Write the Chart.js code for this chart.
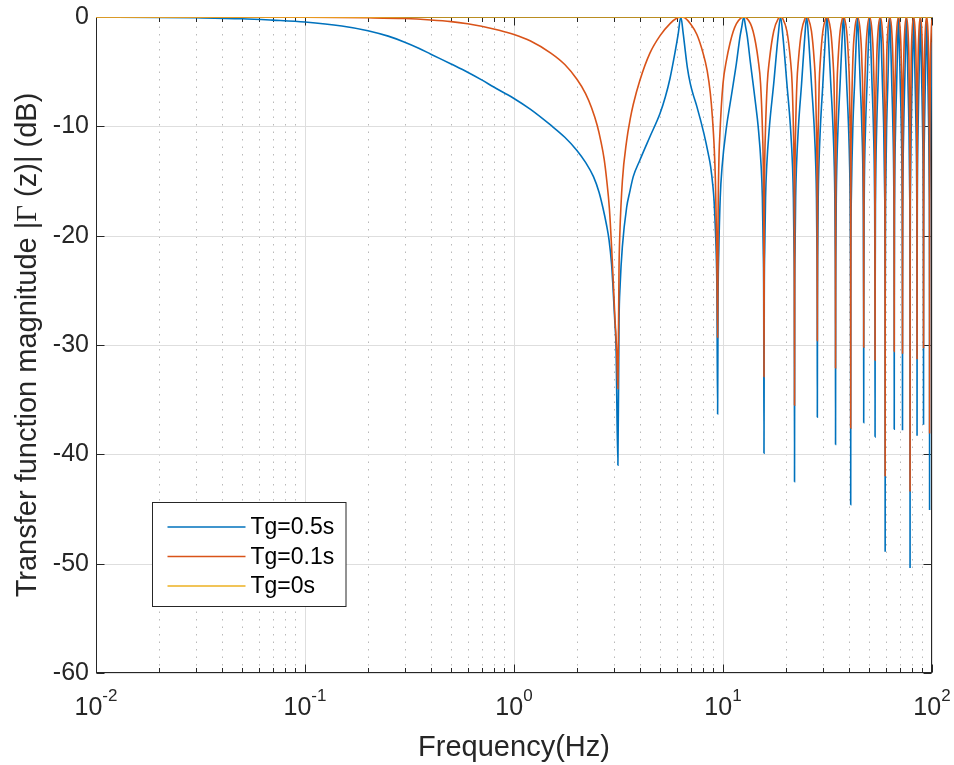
<!DOCTYPE html>
<html>
<head>
<meta charset="utf-8">
<script src="https://cdn.jsdelivr.net/npm/chart.js@4.4.1/dist/chart.umd.min.js"></script>
<style>
  html, body { margin: 0; padding: 0; background: #ffffff; }
  canvas { display: block; }
</style>
</head>
<body>
<canvas id="chart" width="954" height="765"></canvas>
<script>
// ---- data: transfer function magnitude (dB) against frequency (Hz) ----

const seriesNames = ['Tg=0.5s', 'Tg=0.1s', 'Tg=0s'];

const blueHz = [
  0.01, 0.02, 0.03, 0.05, 0.07, 0.1, 0.15, 0.2, 0.25, 0.3, 0.35, 0.4, 0.5, 0.6, 0.7, 0.8, 0.9,
  1.0, 1.2, 1.5, 1.75, 2.0, 2.2, 2.4, 2.55, 2.66, 2.77, 2.85, 2.93, 2.97, 3.03, 3.08, 3.1416,
  3.18, 3.22, 3.3, 3.46, 3.58, 3.72, 4.0, 4.47, 5.0, 5.3, 5.58, 5.9, 6.1, 6.2832,
  6.45, 6.59, 6.75, 6.97, 7.2, 7.5, 8.1, 8.5, 8.73, 8.95, 9.06, 9.2, 9.27, 9.35, 9.4248,
  9.47, 9.55, 9.7, 9.9, 10.4, 10.8, 11.2, 11.6, 12.06, 12.3, 12.5664,
  12.83, 13.07, 13.53, 13.93, 14.33, 14.73, 15.23, 15.43, 15.58, 15.66, 15.708,
  15.753, 15.833, 15.983, 16.183, 16.683, 17.483, 18.343, 18.850,
  19.356, 20.216, 21.016, 21.516, 21.716, 21.866, 21.946, 21.991,
  22.036, 22.116, 22.266, 22.466, 22.966, 23.766, 24.626, 25.133,
  25.639, 26.499, 27.299, 27.799, 27.999, 28.149, 28.229, 28.274,
  28.319, 28.399, 28.549, 28.749, 29.249, 30.049, 30.909, 31.416,
  31.923, 32.783, 33.583, 34.083, 34.283, 34.433, 34.513, 34.558,
  34.603, 34.683, 34.833, 35.033, 35.533, 36.333, 37.193, 37.699,
  38.206, 39.066, 39.866, 40.366, 40.566, 40.716, 40.796, 40.841,
  40.886, 41.116, 41.816, 42.616, 43.476, 43.982,
  44.489, 45.349, 46.149, 46.849, 47.079, 47.124,
  47.169, 47.399, 48.099, 48.899, 49.759, 50.265,
  50.772, 51.632, 52.432, 53.132, 53.362, 53.407,
  53.452, 53.682, 54.382, 55.182, 56.042, 56.549,
  57.055, 57.915, 58.715, 59.415, 59.645, 59.690,
  59.735, 59.965, 60.665, 61.465, 62.325, 62.832,
  63.338, 64.198, 64.998, 65.698, 65.928, 65.973,
  66.018, 66.248, 66.948, 67.748, 68.608, 69.115,
  69.622, 70.482, 71.282, 71.982, 72.212, 72.257,
  72.302, 72.532, 73.232, 74.032, 74.892, 75.398,
  75.905, 76.765, 77.565, 78.265, 78.495, 78.540,
  78.585, 78.815, 79.515, 80.315, 81.175, 81.681,
  82.188, 83.048, 83.848, 84.548, 84.778, 84.823,
  84.868, 85.098, 85.798, 86.598, 87.458, 87.965,
  88.471, 89.331, 90.131, 90.831, 91.061, 91.106,
  91.151, 91.381, 92.081, 92.881, 93.741, 94.248,
  94.754, 95.614, 96.414, 97.114, 97.344, 97.389,
  97.434, 97.664, 98.364, 99.164, 100
];
const blueDb = [
  0, -0.03, -0.07, -0.16, -0.29, -0.46, -0.82, -1.25, -1.75, -2.3, -2.85, -3.4, -4.3, -5.05, -5.75, -6.4, -6.95,
  -7.45, -8.45, -9.9, -11.0, -12.2, -13.3, -14.6, -16.0, -17.4, -19.0, -20.4, -22.6, -24.4, -27.5, -30.5, -41.0,
  -28.0, -24.5, -21.0, -17.4, -16.0, -14.6, -13.1, -10.95, -8.8, -7.3, -5.6, -3.2, -1.6, 0,
  -1.5, -3.0, -4.6, -6.07, -7.1, -8.2, -10.65, -12.5, -13.7, -15.5, -16.75, -19.5, -21.3, -25.0, -36.3,
  -26, -21.3, -16.5, -13.7, -10.0, -8.0, -6.1, -4.2, -1.8, -0.9, 0,
  -0.9, -1.8, -4.2, -6.1, -8.0, -10.0, -13.7, -16.5, -21.3, -26, -39.9,
  -26, -21.3, -16.5, -13.7, -10.0, -6.1, -1.8, 0,
  -1.8, -6.1, -10.0, -13.7, -16.5, -21.3, -26, -42.5,
  -26, -21.3, -16.5, -13.7, -10.0, -6.1, -1.8, 0,
  -1.8, -6.1, -10.0, -13.7, -16.5, -21.3, -26, -36.6,
  -26, -21.3, -16.5, -13.7, -10.0, -6.1, -1.8, 0,
  -1.8, -6.1, -10.0, -13.7, -16.5, -21.3, -26, -39.1,
  -26, -21.3, -16.5, -13.7, -10.0, -6.1, -1.8, 0,
  -1.8, -6.1, -10.0, -13.7, -16.5, -21.3, -26, -44.6,
  -26, -16.5, -10.0, -6.1, -1.8, 0,
  -1.8, -6.1, -10.0, -16.5, -26, -37.1,
  -26, -16.5, -10.0, -6.1, -1.8, 0,
  -1.8, -6.1, -10.0, -16.5, -26, -38.4,
  -26, -16.5, -10.0, -6.1, -1.8, 0,
  -1.8, -6.1, -10.0, -16.5, -26, -48.9,
  -26, -16.5, -10.0, -6.1, -1.8, 0,
  -1.8, -6.1, -10.0, -16.5, -26, -37.7,
  -26, -16.5, -10.0, -6.1, -1.8, 0,
  -1.8, -6.1, -10.0, -16.5, -26, -37.8,
  -26, -16.5, -10.0, -6.1, -1.8, 0,
  -1.8, -6.1, -10.0, -16.5, -26, -50.4,
  -26, -16.5, -10.0, -6.1, -1.8, 0,
  -1.8, -6.1, -10.0, -16.5, -26, -38.3,
  -26, -16.5, -10.0, -6.1, -1.8, 0,
  -1.8, -6.1, -10.0, -16.5, -26, -37.3,
  -26, -16.5, -10.0, -6.1, -1.8, 0,
  -1.8, -6.1, -10.0, -16.5, -26, -45.1,
  -26, -16.5, -10.0, -6.1, -2.3
];

const orangeHz = [
  0.01, 0.1, 0.2, 0.3, 0.4, 0.5, 0.6, 0.7, 0.8, 0.9,
  1.0, 1.2, 1.5, 1.75, 2.0, 2.2, 2.35, 2.5, 2.6, 2.7, 2.78, 2.86, 2.93, 2.99, 3.04, 3.1, 3.1416,
  3.18, 3.21, 3.3, 3.46, 3.6, 3.72, 4.0, 4.47, 5.0, 5.58, 6.0, 6.2832,
  6.6, 6.97, 7.5, 8.0, 8.4, 8.7, 8.9, 9.08, 9.2, 9.3, 9.36, 9.4248,
  9.47, 9.55, 9.67, 10.0, 10.4, 10.8, 11.2, 11.6, 12.1, 12.5664,
  13.03, 13.53, 13.93, 14.33, 14.73, 15.13, 15.46, 15.58, 15.66, 15.708,
  15.753, 15.833, 15.953, 16.283, 16.683, 17.483, 18.383, 18.850,
  19.316, 20.216, 21.016, 21.416, 21.746, 21.866, 21.946, 21.991,
  22.036, 22.116, 22.236, 22.566, 22.966, 23.766, 24.666, 25.133,
  25.599, 26.499, 27.299, 27.699, 28.029, 28.149, 28.229, 28.274,
  28.319, 28.399, 28.519, 28.849, 29.249, 30.049, 30.949, 31.416,
  31.883, 32.783, 33.583, 33.983, 34.313, 34.433, 34.513, 34.558,
  34.603, 34.683, 34.803, 35.133, 35.533, 36.333, 37.233, 37.699,
  38.166, 39.066, 39.866, 40.266, 40.596, 40.716, 40.796, 40.841,
  40.886, 41.086, 41.816, 42.616, 43.982, 45.349, 46.149, 46.879, 47.079, 47.124,
  47.169, 47.369, 48.099, 48.899, 50.265, 51.632, 52.432, 53.162, 53.362, 53.407,
  53.452, 53.652, 54.382, 55.182, 56.549, 57.915, 58.715, 59.445, 59.645, 59.690,
  59.735, 59.935, 60.665, 61.465, 62.832, 64.198, 64.998, 65.728, 65.928, 65.973,
  66.018, 66.218, 66.948, 67.748, 69.115, 70.482, 71.282, 72.012, 72.212, 72.257,
  72.302, 72.502, 73.232, 74.032, 75.398, 76.765, 77.565, 78.295, 78.495, 78.540,
  78.585, 78.785, 79.515, 80.315, 81.681, 83.048, 83.848, 84.578, 84.778, 84.823,
  84.868, 85.068, 85.798, 86.598, 87.965, 89.331, 90.131, 90.861, 91.061, 91.106,
  91.151, 91.351, 92.081, 92.881, 94.248, 95.614, 96.414, 97.144, 97.344, 97.389,
  97.434, 97.634, 98.364, 99.164, 100
];
const orangeDb = [
  0, -0.02, -0.07, -0.14, -0.27, -0.42, -0.62, -0.85, -1.1, -1.35,
  -1.6, -2.2, -3.3, -4.35, -5.7, -7.0, -8.3, -9.9, -11.3, -13.0, -15.0, -17.5, -21.0, -24.5, -27.5, -30.5, -34.0,
  -23.0, -19.8, -15.0, -11.3, -9.3, -8.0, -5.8, -3.3, -1.7, -0.6, -0.12, 0,
  -0.1, -0.6, -1.6, -3.2, -4.9, -7.0, -9.2, -12.0, -15.0, -19.5, -23.0, -29.3,
  -19, -13.5, -10.6, -6.1, -3.9, -2.4, -1.3, -0.6, -0.15, 0,
  -0.15, -0.6, -1.3, -2.4, -3.9, -6.1, -10.6, -13.5, -19, -32.9,
  -19, -13.5, -10.6, -6.1, -3.9, -1.3, -0.15, 0,
  -0.15, -1.3, -3.9, -6.1, -10.6, -13.5, -19, -35.5,
  -19, -13.5, -10.6, -6.1, -3.9, -1.3, -0.15, 0,
  -0.15, -1.3, -3.9, -6.1, -10.6, -13.5, -19, -29.6,
  -19, -13.5, -10.6, -6.1, -3.9, -1.3, -0.15, 0,
  -0.15, -1.3, -3.9, -6.1, -10.6, -13.5, -19, -32.1,
  -19, -13.5, -10.6, -6.1, -3.9, -1.3, -0.15, 0,
  -0.15, -1.3, -3.9, -6.1, -10.6, -13.5, -19, -37.6,
  -19, -10.6, -3.9, -1.3, 0, -1.3, -3.9, -10.6, -19, -30.2,
  -19, -10.6, -3.9, -1.3, 0, -1.3, -3.9, -10.6, -19, -31.4,
  -19, -10.6, -3.9, -1.3, 0, -1.3, -3.9, -10.6, -19, -42.0,
  -19, -10.6, -3.9, -1.3, 0, -1.3, -3.9, -10.6, -19, -30.6,
  -19, -10.6, -3.9, -1.3, 0, -1.3, -3.9, -10.6, -19, -30.8,
  -19, -10.6, -3.9, -1.3, 0, -1.3, -3.9, -10.6, -19, -43.4,
  -19, -10.6, -3.9, -1.3, 0, -1.3, -3.9, -10.6, -19, -31.3,
  -19, -10.6, -3.9, -1.3, 0, -1.3, -3.9, -10.6, -19, -30.3,
  -19, -10.6, -3.9, -1.3, 0, -1.3, -3.9, -10.6, -19, -38.1,
  -19, -10.6, -3.9, -1.3, -0.2
];

const flatHz = [0.01, 100];
const flatDb = [0, 0];

// axis ticks
const yTickValues = [-60, -50, -40, -30, -20, -10, 0];
const xDecades = [0.01, 0.1, 1, 10, 100];
const xExponents = ['-2', '-1', '0', '1', '2'];
const xMinorSteps = [2, 3, 4, 5, 6, 7, 8, 9];

// ---- drawing ----
const FONT = '"Liberation Sans", Arial, Helvetica, sans-serif';
const SERIF = '"Liberation Serif", "DejaVu Serif", serif';
const INK = '#262626';

const toPoints = (hz, db) => hz.map((f, i) => ({ x: f, y: db[i] }));

// grid, box and inward tick marks, under the curves
const axesBox = {
  id: 'axesBox',
  beforeDatasetsDraw(chart) {
    const { ctx, chartArea: a, scales: { x, y } } = chart;
    const px = v => Math.round(x.getPixelForValue(v)) + 0.5;
    const py = v => Math.round(y.getPixelForValue(v)) + 0.5;
    ctx.save();
    ctx.lineWidth = 1;

    // dotted minor grid on the log axis
    ctx.strokeStyle = '#b9b9b9';
    ctx.setLineDash([1.5, 6]);
    xDecades.slice(0, -1).forEach(d => {
      xMinorSteps.forEach(m => {
        const X = px(d * m);
        ctx.beginPath(); ctx.moveTo(X, a.bottom); ctx.lineTo(X, a.top); ctx.stroke();
      });
    });

    // solid major grid
    ctx.setLineDash([]);
    ctx.strokeStyle = '#dedede';
    xDecades.forEach(d => {
      const X = px(d);
      ctx.beginPath(); ctx.moveTo(X, a.top); ctx.lineTo(X, a.bottom); ctx.stroke();
    });
    yTickValues.forEach(v => {
      const Y = py(v);
      ctx.beginPath(); ctx.moveTo(a.left, Y); ctx.lineTo(a.right, Y); ctx.stroke();
    });

    // box
    ctx.strokeStyle = INK;
    const L = Math.round(a.left) + 0.5, R = Math.round(a.right) - 0.5;
    const T = Math.round(a.top) + 0.5, B = Math.round(a.bottom) - 0.5;
    ctx.strokeRect(L, T, R - L, B - T);

    // tick marks pointing inward
    ctx.beginPath();
    xDecades.forEach(d => {
      const X = px(d);
      ctx.moveTo(X, B); ctx.lineTo(X, B - 8);
      ctx.moveTo(X, T); ctx.lineTo(X, T + 8);
    });
    xDecades.slice(0, -1).forEach(d => {
      xMinorSteps.forEach(m => {
        const X = px(d * m);
        ctx.moveTo(X, B); ctx.lineTo(X, B - 4.5);
        ctx.moveTo(X, T); ctx.lineTo(X, T + 4.5);
      });
    });
    yTickValues.forEach(v => {
      const Y = py(v);
      ctx.moveTo(L, Y); ctx.lineTo(L + 8, Y);
      ctx.moveTo(R, Y); ctx.lineTo(R - 8, Y);
    });
    ctx.stroke();
    ctx.restore();
  },

  afterDatasetsDraw(chart) {
    // legend box inside the plot
    const { ctx, data } = chart;
    const bx = 152.5, by = 502.5, bw = 193.5, bh = 104;
    ctx.save();
    ctx.fillStyle = '#ffffff';
    ctx.fillRect(bx, by, bw, bh);
    ctx.strokeStyle = INK;
    ctx.lineWidth = 1;
    ctx.strokeRect(bx, by, bw, bh);
    ctx.font = `23px ${FONT}`;
    ctx.textBaseline = 'middle';
    ctx.textAlign = 'left';
    data.datasets.forEach((ds, i) => {
      const rowY = by + 24.5 + i * 29.5;
      ctx.strokeStyle = ds.borderColor;
      ctx.lineWidth = 1.6;
      ctx.beginPath(); ctx.moveTo(bx + 15, rowY); ctx.lineTo(bx + 93, rowY); ctx.stroke();
      ctx.fillStyle = '#000000';
      ctx.fillText(ds.label, bx + 98, rowY + 1);
    });
    ctx.restore();
  },

  afterDraw(chart) {
    const { ctx, chartArea: a, scales: { x } } = chart;
    ctx.save();
    ctx.fillStyle = INK;
    ctx.textAlign = 'left';
    ctx.textBaseline = 'alphabetic';

    // decade labels 10^n
    const baseFont = `25px ${FONT}`, expFont = `17px ${FONT}`;
    xDecades.forEach((d, i) => {
      const X = x.getPixelForValue(d);
      ctx.font = baseFont; const wb = ctx.measureText('10').width;
      ctx.font = expFont; const we = ctx.measureText(xExponents[i]).width;
      const left = X - (wb + we) / 2;
      ctx.font = baseFont; ctx.fillText('10', left, a.bottom + 42);
      ctx.font = expFont; ctx.fillText(xExponents[i], left + wb, a.bottom + 28);
    });

    // x axis title
    ctx.font = `29px ${FONT}`;
    ctx.textAlign = 'center';
    ctx.fillText('Frequency(Hz)', (a.left + a.right) / 2, a.bottom + 83);

    // y axis title, with a serif capital Gamma
    const parts = [
      ['Transfer function magnitude |', `29px ${FONT}`],
      ['\u0393', `29px ${SERIF}`],
      [' (z)| (dB)', `29px ${FONT}`]
    ];
    let total = 0;
    const widths = parts.map(([t, f]) => { ctx.font = f; const w = ctx.measureText(t).width; total += w; return w; });
    ctx.translate(36, (a.top + a.bottom) / 2);
    ctx.rotate(-Math.PI / 2);
    ctx.textAlign = 'left';
    let cx = -total / 2;
    parts.forEach(([t, f], i) => { ctx.font = f; ctx.fillText(t, cx, 0); cx += widths[i]; });
    ctx.restore();
  }
};

new Chart(document.getElementById('chart'), {
  type: 'line',
  data: {
    datasets: [
      { label: seriesNames[0], data: toPoints(blueHz, blueDb), borderColor: '#0072BD', order: 3 },
      { label: seriesNames[1], data: toPoints(orangeHz, orangeDb), borderColor: '#D95319', order: 2 },
      { label: seriesNames[2], data: toPoints(flatHz, flatDb), borderColor: '#EDB120', order: 1 }
    ]
  },
  options: {
    responsive: false,
    animation: false,
    devicePixelRatio: 1,
    layout: { padding: { top: 17, right: 22, left: 0, bottom: 0 } },
    elements: {
      point: { radius: 0, hoverRadius: 0 },
      line: { borderWidth: 1.6, cubicInterpolationMode: 'monotone', fill: false }
    },
    plugins: { legend: { display: false }, tooltip: { enabled: false } },
    scales: {
      x: {
        type: 'logarithmic',
        min: 0.01, max: 100,
        grid: { display: false, drawTicks: false },
        border: { display: false },
        ticks: { display: false },
        afterFit: s => { s.height = 92; s.paddingLeft = 0; s.paddingRight = 0; }
      },
      y: {
        type: 'linear',
        min: -60, max: 0,
        grid: { display: false, drawTicks: false },
        border: { display: false },
        ticks: {
          stepSize: 10,
          color: INK,
          padding: 7,
          font: { family: FONT, size: 25 }
        },
        afterFit: s => { s.width = 96; s.paddingTop = 0; s.paddingBottom = 0; }
      }
    }
  },
  plugins: [axesBox]
});
</script>
</body>
</html>
